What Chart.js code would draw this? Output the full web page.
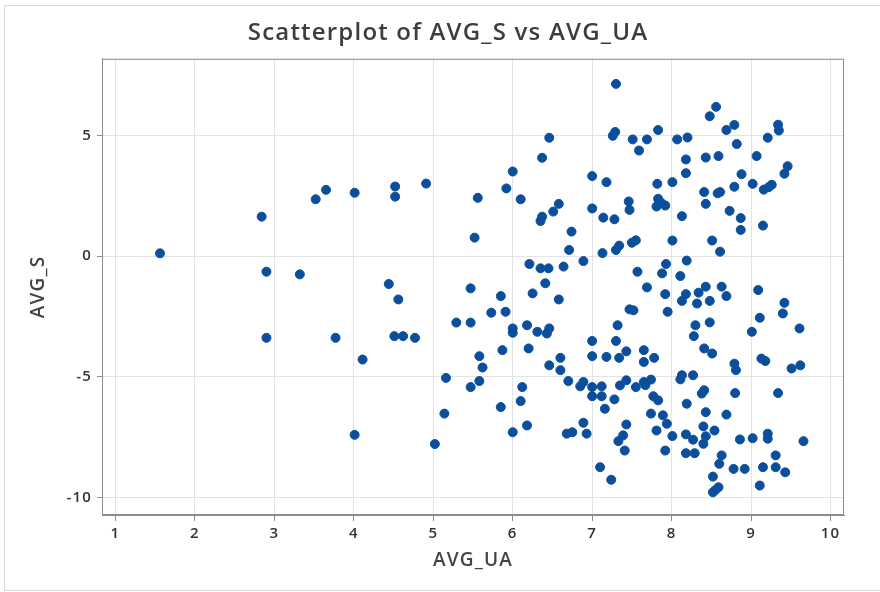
<!DOCTYPE html>
<html>
<head>
<meta charset="utf-8">
<title>Scatterplot of AVG_S vs AVG_UA</title>
<script src="https://cdn.jsdelivr.net/npm/chart.js@4.4.1/dist/chart.umd.min.js"></script>
<style>
    body { margin: 0; background: #fff; }
    #wrap { position: relative; width: 880px; height: 592px; overflow: hidden; }
    #frame { position: absolute; left: 4px; top: 5px; width: 900px; height: 584px; border: 1px solid #d8d8d8; pointer-events: none; }
    canvas { display: block; }
</style>
</head>
<body>
<div id="wrap">
    <canvas id="scatterChart" width="880" height="592"></canvas>
    <div id="frame"></div>
</div>
<script>
// Datos
const avgUA = [
    1.56, 2.84, 2.90, 2.90, 3.32, 3.52, 3.65, 3.77, 4.01, 4.01,
    4.11, 4.44, 4.52, 4.52, 4.56, 4.51, 4.62, 4.77, 4.91, 5.02,
    5.14, 5.16, 5.29, 5.47, 5.47, 5.47, 5.52, 5.56, 5.58, 5.58,
    5.62, 5.73, 5.85, 5.85, 5.87, 5.91, 5.92, 6.00, 6.00, 6.00,
    6.00, 6.10, 6.10, 6.12, 6.18, 6.18, 6.20, 6.21, 6.25, 6.31,
    6.35, 6.35, 6.37, 6.37, 6.41, 6.43, 6.45, 6.46, 6.46, 6.46,
    6.51, 6.58, 6.58, 6.60, 6.60, 6.64, 6.68, 6.70, 6.71, 6.74,
    6.75, 6.85, 6.89, 6.89, 6.89, 6.93, 7.00, 7.00, 7.00, 7.00,
    7.00, 7.00, 7.10, 7.12, 7.12, 7.13, 7.14, 7.16, 7.18, 7.18,
    7.24, 7.26, 7.28, 7.28, 7.29, 7.30, 7.30, 7.30, 7.32, 7.33,
    7.34, 7.34, 7.35, 7.39, 7.41, 7.43, 7.43, 7.43, 7.46, 7.47,
    7.47, 7.50, 7.51, 7.52, 7.55, 7.55, 7.57, 7.59, 7.65, 7.65,
    7.65, 7.67, 7.69, 7.69, 7.74, 7.74, 7.77, 7.78, 7.81, 7.81,
    7.82, 7.83, 7.83, 7.83, 7.87, 7.88, 7.89, 7.92, 7.92, 7.92,
    7.93, 7.94, 7.95, 8.01, 8.01, 8.01, 8.07, 8.11, 8.11, 8.13,
    8.13, 8.13, 8.18, 8.18, 8.18, 8.19, 8.18, 8.18, 8.19, 8.20,
    8.27, 8.27, 8.28, 8.29, 8.30, 8.32, 8.34, 8.38, 8.40, 8.40,
    8.41, 8.41, 8.41, 8.43, 8.43, 8.43, 8.43, 8.43, 8.48, 8.48,
    8.48, 8.51, 8.51, 8.52, 8.52, 8.54, 8.55, 8.56, 8.58, 8.59,
    8.59, 8.60, 8.61, 8.61, 8.63, 8.63, 8.69, 8.69, 8.69, 8.73,
    8.78, 8.79, 8.79, 8.79, 8.80, 8.81, 8.82, 8.86, 8.87, 8.87,
    8.88, 8.92, 9.01, 9.02, 9.02, 9.07, 9.09, 9.11, 9.11, 9.13,
    9.15, 9.15, 9.16, 9.18, 9.21, 9.21, 9.21, 9.22, 9.26, 9.31,
    9.31, 9.34, 9.34, 9.35, 9.40, 9.42, 9.42, 9.43, 9.46, 9.51,
    9.61, 9.62, 9.66
];

const avgS = [
    0.11, 1.63, -0.65, -3.39, -0.76, 2.35, 2.74, -3.39, 2.62, -7.41,
    -4.29, -1.16, 2.88, 2.46, -1.80, -3.32, -3.32, -3.39, 3.00, -7.79,
    -6.53, -5.05, -2.76, -2.76, -1.34, -5.43, 0.76, 2.41, -4.15, -5.18,
    -4.62, -2.35, -1.66, -6.26, -3.90, -2.31, 2.80, 3.50, -3.00, -3.18,
    -7.30, 2.35, -6.01, -5.43, -2.87, -7.02, -3.83, -0.33, -1.55, -3.14,
    1.45, -0.51, 1.63, 4.07, -1.13, -3.21, -0.51, -3.00, 4.90, -4.53,
    1.84, 2.16, -1.80, -4.22, -4.73, -0.44, -7.36, -5.18, 0.25, 1.01,
    -7.30, -5.40, -0.21, -5.22, -6.91, -7.36, 3.31, 1.97, -3.52, -4.15,
    -5.43, -5.81, -8.75, -5.40, -5.81, 0.12, 1.59, -6.33, 3.06, -4.18,
    -9.27, 4.98, 1.52, -5.94, 5.14, 7.13, 0.25, -3.52, -2.87, -7.67,
    0.43, -4.22, -5.36, -7.43, -8.06, -3.95, -5.15, -6.98, 2.26, 1.91,
    -2.21, 0.55, 4.83, -2.25, 0.65, -5.43, -0.65, 4.37, -3.90, -4.39,
    -5.22, -5.35, 4.83, -1.30, -5.12, -6.53, -5.81, -4.22, 2.05, -7.23,
    2.99, 5.22, 2.37, -5.98, 2.20, -0.72, -6.60, 2.09, -1.58, -8.06,
    -0.33, -6.95, -2.31, 3.06, 0.64, -7.46, 4.83, -0.83, -5.11, 1.65,
    -1.86, -4.94, 4.00, 3.43, -1.58, -6.12, -7.39, -8.17, -0.19, 4.91,
    -4.94, -7.61, -3.32, -8.17, -2.87, -1.97, -1.52, -5.70, -7.06, -7.78,
    2.65, -3.83, -5.56, 4.08, 2.16, -1.27, -6.47, -7.47, 5.79, -1.86,
    -2.75, 0.64, -4.04, -9.14, -9.79, -7.23, -9.70, 6.18, 2.60, 4.14,
    -9.58, -8.61, 2.65, 0.18, -1.27, -8.26, 5.22, -1.66, -6.57, 1.87,
    -8.82, 5.43, 2.87, -4.46, -5.68, -4.73, 4.64, -7.60, 1.57, 1.08,
    3.39, -8.82, -3.14, 2.99, -7.55, 4.14, -1.41, -2.56, -9.51, -4.25,
    1.26, -8.75, 2.75, -4.35, 4.90, -7.36, -7.57, 2.85, 2.95, -8.26,
    -8.75, 5.44, -5.68, 5.20, -2.38, 3.41, -1.94, -8.96, 3.72, -4.66,
    -3.00, -4.53, -7.67
];

const xTicks = [1, 2, 3, 4, 5, 6, 7, 8, 9, 10];
const yTicks = [-10, -5, 0, 5];

const FONT = "'Open Sans', 'DejaVu Sans', sans-serif";
const AXIS_GRAY = '#8c8c8c';

// Espaciado de letras como en el original
const letterSpacing = {
    id: 'letterSpacing',
    beforeDraw(chart) {
        chart.ctx.letterSpacing = '1.2px';
    }
};

// Marco completo alrededor del area de trazado
const plotFrame = {
    id: 'plotFrame',
    afterDraw(chart) {
        const { ctx, chartArea: a } = chart;
        ctx.save();
        ctx.strokeStyle = AXIS_GRAY;
        ctx.lineWidth = 1;
        ctx.strokeRect(a.left + 0.5, a.top + 0.5, a.right - a.left - 1, a.bottom - a.top - 1);
        ctx.restore();
    }
};

const points = avgUA.map((x, i) => ({ x: x, y: avgS[i] }));

new Chart(document.getElementById('scatterChart'), {
    type: 'scatter',
    data: {
        datasets: [{
            label: 'AVG_S',
            data: points,
            backgroundColor: '#0b4f9c',
            borderColor: '#0b4f9c',
            borderWidth: 1,
            pointRadius: 4.5
        }]
    },
    options: {
        responsive: false,
        animation: false,
        // el padding izquierdo centra el titulo como en Minitab
        layout: { padding: { top: 0, right: 36, bottom: 0, left: 52 } },
        plugins: {
            legend: { display: false },
            tooltip: { enabled: false },
            title: {
                display: true,
                text: 'Scatterplot of AVG_S vs AVG_UA',
                color: '#3d3d3d',
                font: { family: FONT, size: 24, weight: '600' },
                padding: { top: 19, bottom: 11 }
            }
        },
        scales: {
            x: {
                type: 'linear',
                min: 0.83,
                max: 10.17,
                afterBuildTicks: s => { s.ticks = xTicks.map(v => ({ value: v })); },
                afterFit: s => { s.height = 77; },
                grid: { color: '#e3e3e3', tickColor: AXIS_GRAY, tickLength: 6 },
                border: { color: AXIS_GRAY },
                ticks: { color: '#333', padding: 4, font: { family: FONT, size: 15, weight: '600' } },
                title: {
                    display: true,
                    text: 'AVG_UA',
                    color: '#444',
                    font: { family: FONT, size: 19, weight: '600' },
                    padding: { top: 0, bottom: 19.6 }
                }
            },
            y: {
                type: 'linear',
                min: -10.73,
                max: 8.17,
                afterBuildTicks: s => { s.ticks = yTicks.map(v => ({ value: v })); },
                afterFit: s => { s.width = 50; },
                grid: { color: '#e3e3e3', tickColor: AXIS_GRAY, tickLength: 5 },
                border: { color: AXIS_GRAY },
                ticks: { color: '#333', padding: 5, font: { family: FONT, size: 15, weight: '600' } },
                title: {
                    display: true,
                    text: 'AVG_S',
                    color: '#444',
                    font: { family: FONT, size: 19, weight: '600' },
                    padding: { top: -24.4, bottom: 0 }
                }
            }
        }
    },
    plugins: [letterSpacing, plotFrame]
});
</script>
</body>
</html>
